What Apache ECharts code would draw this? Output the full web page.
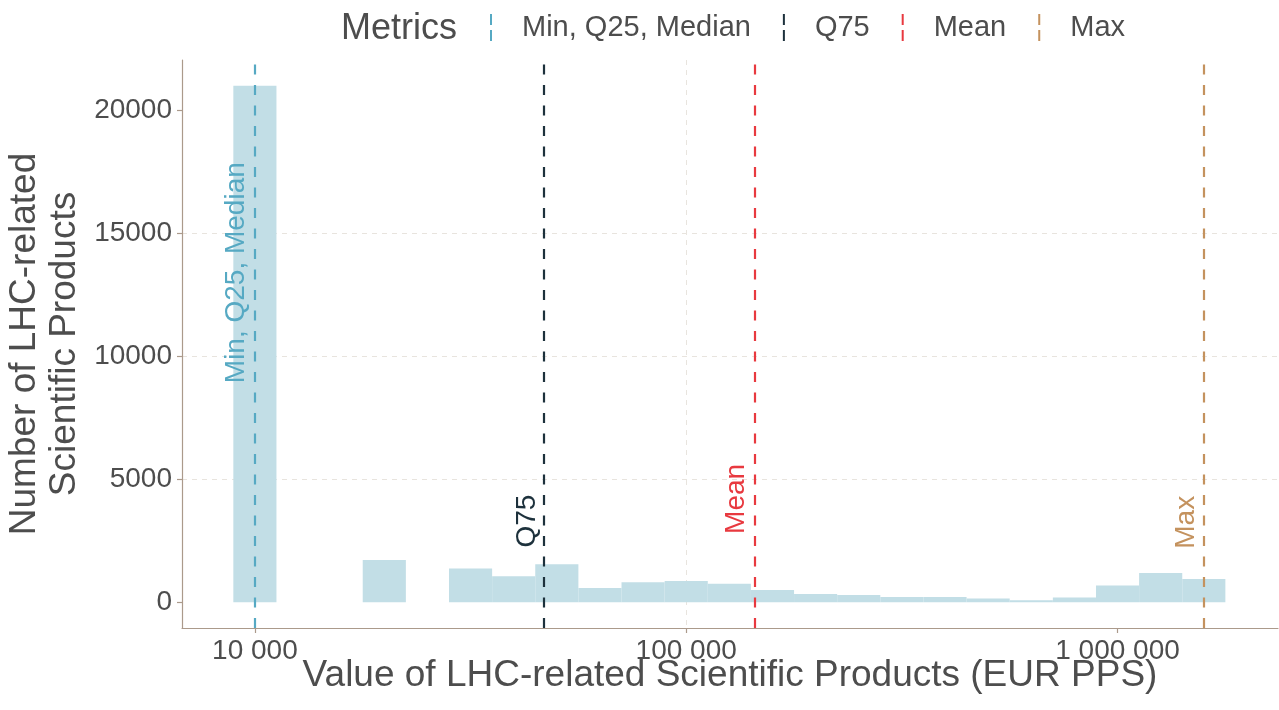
<!DOCTYPE html>
<html>
<head>
<meta charset="utf-8">
<script src="https://cdn.jsdelivr.net/npm/echarts@6/dist/echarts.min.js"></script>
<style>
html,body{margin:0;padding:0;background:#fff;}
#chart{width:1279px;height:710px;}
</style>
</head>
<body>
<div id="chart"></div>
<script>
// ---- data ----
// histogram bins: centers in log10(EUR PPS), bin width 0.1 (log10)
const binCentersLog = [4.0, 4.1, 4.2, 4.3, 4.4, 4.5, 4.6, 4.7, 4.8, 4.9, 5.0, 5.1, 5.2, 5.3, 5.4, 5.5, 5.6, 5.7, 5.8, 5.9, 6.0, 6.1, 6.2];
const binCounts     = [21000, 0, 0, 1720, 0, 1370, 1055, 1545, 580, 810, 865, 745, 500, 335, 295, 215, 215, 150, 80, 190, 675, 1190, 945];
const binWidthLog = 0.1;

const metricNames  = ['Min, Q25, Median', 'Q75', 'Mean', 'Max'];
const metricValues = [10000, 47260, 144300, 1594000];
const metricLabelY = [13400, 3300, 4200, 3250];
const metricColors = ['#56a9c3', '#1d313c', '#e8393f', '#c4925e'];

const xTickValues = [10000, 100000, 1000000];
const xTickLabels = ['10 000', '100 000', '1 000 000'];
const yTickValues = [0, 5000, 10000, 15000, 20000];

// ---- chart ----
const FONT = 'Liberation Sans, Arial, sans-serif';
const TEXT = '#4d4d4d';
const AXIS = '#ab9a8b';
const GRID = '#e8e4de';
const BAR = '#c2dee6';

const chart = echarts.init(document.getElementById('chart'), null, {renderer: 'canvas'});

const xTickLog = xTickValues.map(v => Math.log10(v));

const series = [];
series.push({
  type: 'custom',
  name: 'hist',
  data: binCentersLog.map((x, i) => [x, binCounts[i]]),
  encode: {x: 0, y: 1},
  z: 2,
  renderItem: function (params, api) {
    const x = api.value(0), c = api.value(1);
    const p0 = api.coord([x - binWidthLog / 2, c]);
    const p1 = api.coord([x + binWidthLog / 2, 0]);
    return {
      type: 'rect',
      shape: {x: p0[0], y: p0[1], width: p1[0] - p0[0], height: p1[1] - p0[1]},
      style: {fill: BAR}
    };
  },
  silent: true
});

metricNames.forEach((name, i) => {
  series.push({
    type: 'custom',
    name: name,
    color: metricColors[i],
    itemStyle: {color: metricColors[i]},
    data: [[Math.log10(metricValues[i]), metricLabelY[i]]],
    encode: {x: 0, y: 1},
    z: 5,
    renderItem: function (params, api) {
      const p = api.coord([api.value(0), api.value(1)]);
      return {
        type: 'text',
        x: p[0] - 19,
        y: p[1],
        rotation: Math.PI / 2,
        style: {
          text: name,
          fill: metricColors[i],
          font: '28px ' + FONT,
          align: 'center',
          verticalAlign: 'middle'
        }
      };
    },
    markLine: {
      silent: true,
      symbol: ['none', 'none'],
      label: {show: false},
      lineStyle: {color: metricColors[i], width: 2.2, type: [10, 10.5], opacity: 1},
      emphasis: {disabled: true},
      data: [{xAxis: Math.log10(metricValues[i])}],
      animation: false
    }
  });
});

const dashIcon = 'path://M0,0h2v11h-2z M0,16h2v11h-2z';

chart.setOption({
  animation: false,
  backgroundColor: '#ffffff',
  textStyle: {fontFamily: FONT},
  title: {
    text: 'Metrics',
    left: 341,
    top: 11,
    padding: 0,
    textStyle: {fontFamily: FONT, fontSize: 36, fontWeight: 'normal', color: TEXT}
  },
  legend: {
    left: 490,
    top: 13,
    padding: 0,
    itemWidth: 2,
    itemHeight: 27,
    itemGap: 32,
    selectedMode: false,
    data: metricNames.map(n => ({name: n, icon: dashIcon})),
    textStyle: {fontFamily: FONT, fontSize: 29, color: TEXT, padding: [0, 0, 0, 25]}
  },
  grid: {left: 182, right: 1, top: 60, bottom: 82, containLabel: false, outerBoundsMode: 'none'},
  xAxis: {
    type: 'value',
    min: 3.831,
    max: 6.372,
    name: 'Value of LHC-related Scientific Products (EUR PPS)',
    nameLocation: 'middle',
    nameGap: 29,
    nameMoveOverlap: false,
    nameTextStyle: {fontFamily: FONT, fontSize: 37, color: TEXT},
    axisLine: {show: true, onZero: false, lineStyle: {color: AXIS, width: 1.2}},
    axisTick: {show: true, length: 5, lineStyle: {color: AXIS, width: 1.2}, customValues: xTickLog},
    axisLabel: {
      customValues: xTickLog,
      margin: 9,
      fontFamily: FONT, fontSize: 28, color: TEXT,
      formatter: function (v) {
        const idx = xTickLog.findIndex(t => Math.abs(t - v) < 1e-9);
        return idx >= 0 ? xTickLabels[idx] : '';
      }
    },
    splitLine: {show: true, showMinLine: false, showMaxLine: false, lineStyle: {color: GRID, width: 1, type: [5, 5]}}
  },
  yAxis: {
    type: 'value',
    min: -1050,
    max: 22050,
    name: 'Number of LHC-related\nScientific Products',
    nameLocation: 'middle',
    nameRotate: 90,
    nameGap: 97,
    nameMoveOverlap: false,
    nameTextStyle: {fontFamily: FONT, fontSize: 37, color: TEXT, lineHeight: 40},
    axisLine: {show: true, onZero: false, lineStyle: {color: AXIS, width: 1.2}},
    axisTick: {show: true, length: 5, lineStyle: {color: AXIS, width: 1.2}, customValues: yTickValues},
    axisLabel: {customValues: yTickValues, margin: 10, fontFamily: FONT, fontSize: 28, color: TEXT,
      formatter: function (v) { return String(v); }},
    splitLine: {show: true, showMinLine: false, showMaxLine: false, lineStyle: {color: GRID, width: 1, type: [5, 5]}}
  },
  series: series
});
</script>
</body>
</html>
